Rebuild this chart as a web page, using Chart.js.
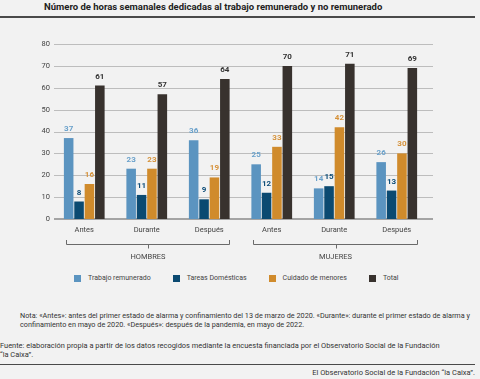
<!DOCTYPE html>
<html><head><meta charset="utf-8">
<script src="https://cdn.jsdelivr.net/npm/chart.js@4/dist/chart.umd.min.js"></script>
<style>
html,body{margin:0;padding:0;background:#f2f2f2;}
body{width:480px;height:379px;position:relative;overflow:hidden;font-family:Roboto,'Liberation Sans',sans-serif;color:#333;}
#title{position:absolute;left:44px;top:2px;font-size:9.5px;line-height:10px;font-weight:700;color:#222;white-space:nowrap;}
.rule{position:absolute;left:0;width:475px;height:1.5px;background:#4a4a4a;}
#wrap{position:absolute;left:0;top:0;width:480px;height:265px;}
#legend{position:absolute;left:74px;top:273px;display:flex;align-items:center;column-gap:22px;font-size:7px;line-height:10px;color:#444;white-space:nowrap;}
#legend .sw{display:inline-block;width:7px;height:7px;margin-right:7px;vertical-align:middle;}
#legend .it{display:flex;align-items:center;}
.txt{position:absolute;line-height:9px;color:#333;white-space:nowrap;}
</style></head>
<body>
<div id="title">Número de horas semanales dedicadas al trabajo remunerado y no remunerado</div>
<div class="rule" style="top:16px"></div>
<div id="wrap"><canvas id="c" width="480" height="265"></canvas></div>
<div id="legend"></div>
<div class="txt" style="left:20px;top:310.5px;font-size:7.25px">Nota: «Antes»: antes del primer estado de alarma y confinamiento del 13 de marzo de 2020. «Durante»: durante el primer estado de alarma y<br>confinamiento en mayo de 2020. «Después»: después de la pandemia, en mayo de 2022.</div>
<div class="txt" style="left:0;top:340.5px;font-size:7.45px">Fuente: elaboración propia a partir de los datos recogidos mediante la encuesta financiada por el Observatorio Social de la Fundación<br>“la Caixa”.</div>
<div class="rule" style="top:363.5px"></div>
<div class="txt" style="right:5px;top:367.5px;font-size:7.5px">El Observatorio Social de la Fundación “la Caixa”.</div>
<script>
const categories = ['Antes','Durante','Después','Antes','Durante','Después'];
const groupNames = ['HOMBRES','MUJERES'];
const groupRanges = [[0,2],[3,5]];
const seriesNames = ['Trabajo remunerado','Tareas Domésticas','Cuidado de menores','Total'];
const trabajo = [37,23,36,25,14,26];
const tareas  = [8,11,9,12,15,13];
const cuidado = [16,23,19,33,42,30];
const total   = [61,57,64,70,71,69];
const yTicks  = [0,10,20,30,40,50,60,70,80];

const barColors   = ['#5b94c0','#0b4a71','#d08b2c','#38322e'];
const labelColors = ['#6aa1cb','#0e4d78','#d6923a','#333333'];
const seriesData = [trabajo,tareas,cuidado,total];

const lg = document.getElementById('legend');
seriesNames.forEach((n,i)=>{
  const it=document.createElement('span'); it.className='it';
  const sw=document.createElement('span'); sw.className='sw'; sw.style.background=barColors[i];
  it.appendChild(sw); it.appendChild(document.createTextNode(n)); lg.appendChild(it);
});

const FONT = 'Roboto, "Liberation Sans", sans-serif';

const custom = {
  id:'custom',
  beforeDatasetsDraw(chart){
    const {ctx, chartArea:a, scales:{y}} = chart;
    ctx.save();
    yTicks.forEach(v=>{
      const py = Math.round(y.getPixelForValue(v));
      ctx.beginPath();
      if(v===0){ctx.strokeStyle='#8a8a8a';ctx.lineWidth=1.5;}
      else {ctx.strokeStyle='#bdbdbd';ctx.lineWidth=1;}
      ctx.moveTo(a.left+1, py+(v===0?0:0.5));
      ctx.lineTo(433, py+(v===0?0:0.5));
      ctx.stroke();
    });
    ctx.restore();
  },
  afterDatasetsDraw(chart){
    const {ctx, chartArea:a, scales:{x}} = chart;
    ctx.save();
    ctx.font = 'bold 8px '+FONT;
    ctx.textAlign='center'; ctx.textBaseline='middle';
    chart.data.datasets.forEach((ds,di)=>{
      const meta = chart.getDatasetMeta(di);
      ctx.fillStyle = labelColors[di];
      meta.data.forEach((bar,i)=>{
        ctx.fillText(String(ds.data[i]), bar.x, bar.y-9);
      });
    });
    ctx.strokeStyle='#6a6a6a'; ctx.lineWidth=1;
    ctx.font='7.5px '+FONT; ctx.fillStyle='#444';
    const yb = a.bottom;
    groupRanges.forEach((r,gi)=>{
      const l = Math.round(x.getPixelForValue(r[0])-18.5)+0.5;
      const rr = Math.round(x.getPixelForValue(r[1])+20)+0.5;
      const mid = Math.round((l+rr)/2)+0.5;
      ctx.beginPath();
      ctx.moveTo(l, yb+21); ctx.lineTo(l, yb+25.5); ctx.lineTo(rr, yb+25.5); ctx.lineTo(rr, yb+21);
      ctx.moveTo(mid, yb+25.5); ctx.lineTo(mid, yb+29.5);
      ctx.stroke();
      ctx.fillText(groupNames[gi], (l+rr)/2, yb+38);
    });
    ctx.restore();
  }
};

new Chart(document.getElementById('c'), {
  type:'bar',
  data:{
    labels:categories,
    datasets: seriesNames.map((n,i)=>({
      label:n, data:seriesData[i], backgroundColor:barColors[i],
      categoryPercentage:0.665, barPercentage:0.92, borderWidth:0
    }))
  },
  options:{
    responsive:false, animation:false, devicePixelRatio:1,
    layout:{padding:{top:44,left:0,right:52,bottom:30}},
    plugins:{legend:{display:false}, tooltip:{enabled:false}},
    scales:{
      x:{
        grid:{display:false,drawTicks:false}, border:{display:false},
        ticks:{font:{family:FONT,size:7.5}, color:'#444', padding:7, maxRotation:0},
        afterFit(s){s.height=16;}
      },
      y:{
        min:0,max:80,
        grid:{display:false,drawTicks:false}, border:{display:false},
        ticks:{font:{family:FONT,size:7.5}, color:'#444', padding:3},
        afterBuildTicks(s){s.ticks = yTicks.map(v=>({value:v}));},
        afterFit(s){s.width=53;}
      }
    }
  },
  plugins:[custom]
});
</script>
</body></html>
